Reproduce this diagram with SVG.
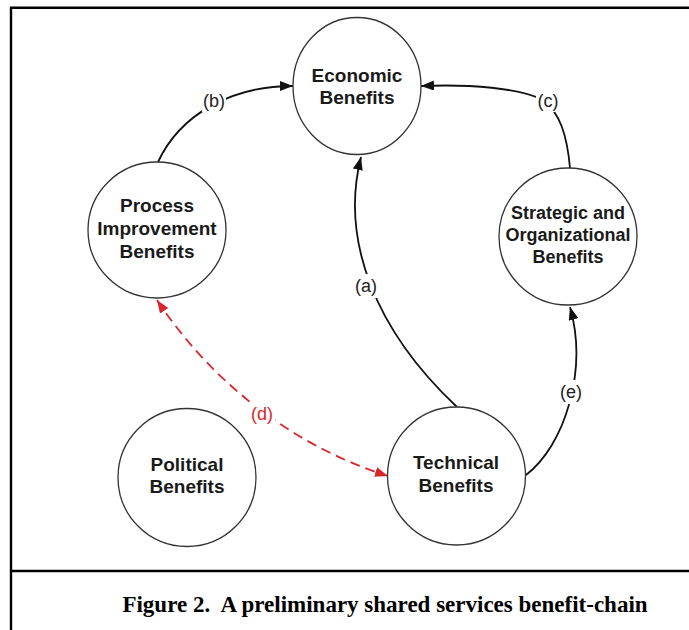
<svg xmlns="http://www.w3.org/2000/svg" width="689" height="630" viewBox="0 0 689 630">
<style>
.node ellipse{fill:#fff;stroke:#333;stroke-width:1.3}
.node text{font-family:"Liberation Sans",Arial,sans-serif;font-weight:bold;font-size:19px;fill:#1a1a1a;text-anchor:middle}
.node text.s{font-size:18px}
.edge{fill:none;stroke:#111;stroke-width:1.8}
.red{fill:none;stroke:#d8262c;stroke-width:1.8;stroke-dasharray:10 6}
.lbl{font-family:"Liberation Sans",Arial,sans-serif;font-size:18px;fill:#222;text-anchor:middle}
.lblr{fill:#d8262c}
.bg{fill:#fff}
.frame{stroke:#000;stroke-width:2.4;fill:none}
.cap{font-family:"Liberation Serif","Times New Roman",serif;font-weight:bold;font-size:23px;fill:#000;text-anchor:middle}
</style>
<defs>
<marker id="ah" markerUnits="userSpaceOnUse" markerWidth="14" markerHeight="10" refX="13" refY="5" orient="auto"><path d="M0,0 L13,5 L0,10 z" fill="#111"/></marker>
<marker id="ahr" markerUnits="userSpaceOnUse" markerWidth="14" markerHeight="10" refX="13" refY="5" orient="auto-start-reverse"><path d="M0,0 L13,5 L0,10 z" fill="#d8262c"/></marker>
</defs>
<rect width="689" height="630" fill="#fff"/>
<g id="frame">
<path class="frame" d="M11,630 V7.8 H689 M11,571 H689"/>
</g>
<g id="connectors">
<path class="edge" d="M158,162 C180,115 230,86 293,86" marker-end="url(#ah)"/>
<path class="edge" d="M570,168 C567,135 560,113 543,100 C520,88 470,84 421,86" marker-end="url(#ah)"/>
<path class="edge" d="M457,407 C375,330 340,240 361,157" marker-end="url(#ah)"/>
<path class="edge" d="M526,475 C565,445 588,370 570,307" marker-end="url(#ah)"/>
<path class="red" d="M157,300 C210,380 290,445 388,476" marker-start="url(#ahr)" marker-end="url(#ahr)"/>
<rect class="bg" x="202" y="90" width="24" height="22"/>
<text class="lbl" x="214" y="107">(b)</text>
<rect class="bg" x="536" y="90" width="24" height="22"/>
<text class="lbl" x="548" y="107">(c)</text>
<rect class="bg" x="354" y="274" width="25" height="24"/>
<text class="lbl" x="366" y="292">(a)</text>
<rect class="bg" x="559" y="380" width="25" height="24"/>
<text class="lbl" x="571" y="398">(e)</text>
<rect class="bg" x="250" y="402" width="25" height="24"/>
<text class="lbl lblr" x="262" y="420">(d)</text>
</g>
<g id="economic" class="node">
<ellipse cx="357" cy="86" rx="64" ry="68.5"/>
<text x="357" y="82">Economic</text>
<text x="357" y="104">Benefits</text>
</g>
<g id="process" class="node">
<ellipse cx="157" cy="230" rx="69" ry="68"/>
<text x="157" y="212">Process</text>
<text x="157" y="235">Improvement</text>
<text x="157" y="258">Benefits</text>
</g>
<g id="strategic" class="node">
<ellipse cx="568" cy="236.5" rx="69" ry="68.5"/>
<text class="s" x="568" y="219">Strategic and</text>
<text class="s" x="568" y="241">Organizational</text>
<text class="s" x="568" y="263">Benefits</text>
</g>
<g id="political" class="node">
<ellipse cx="187" cy="477.5" rx="69" ry="69"/>
<text x="187" y="471">Political</text>
<text x="187" y="493">Benefits</text>
</g>
<g id="technical" class="node">
<ellipse cx="456.5" cy="476" rx="69" ry="69"/>
<text x="456" y="469">Technical</text>
<text x="456" y="492">Benefits</text>
</g>
<text class="cap" x="385" y="612" xml:space="preserve">Figure 2.  A preliminary shared services benefit-chain</text>
</svg>
